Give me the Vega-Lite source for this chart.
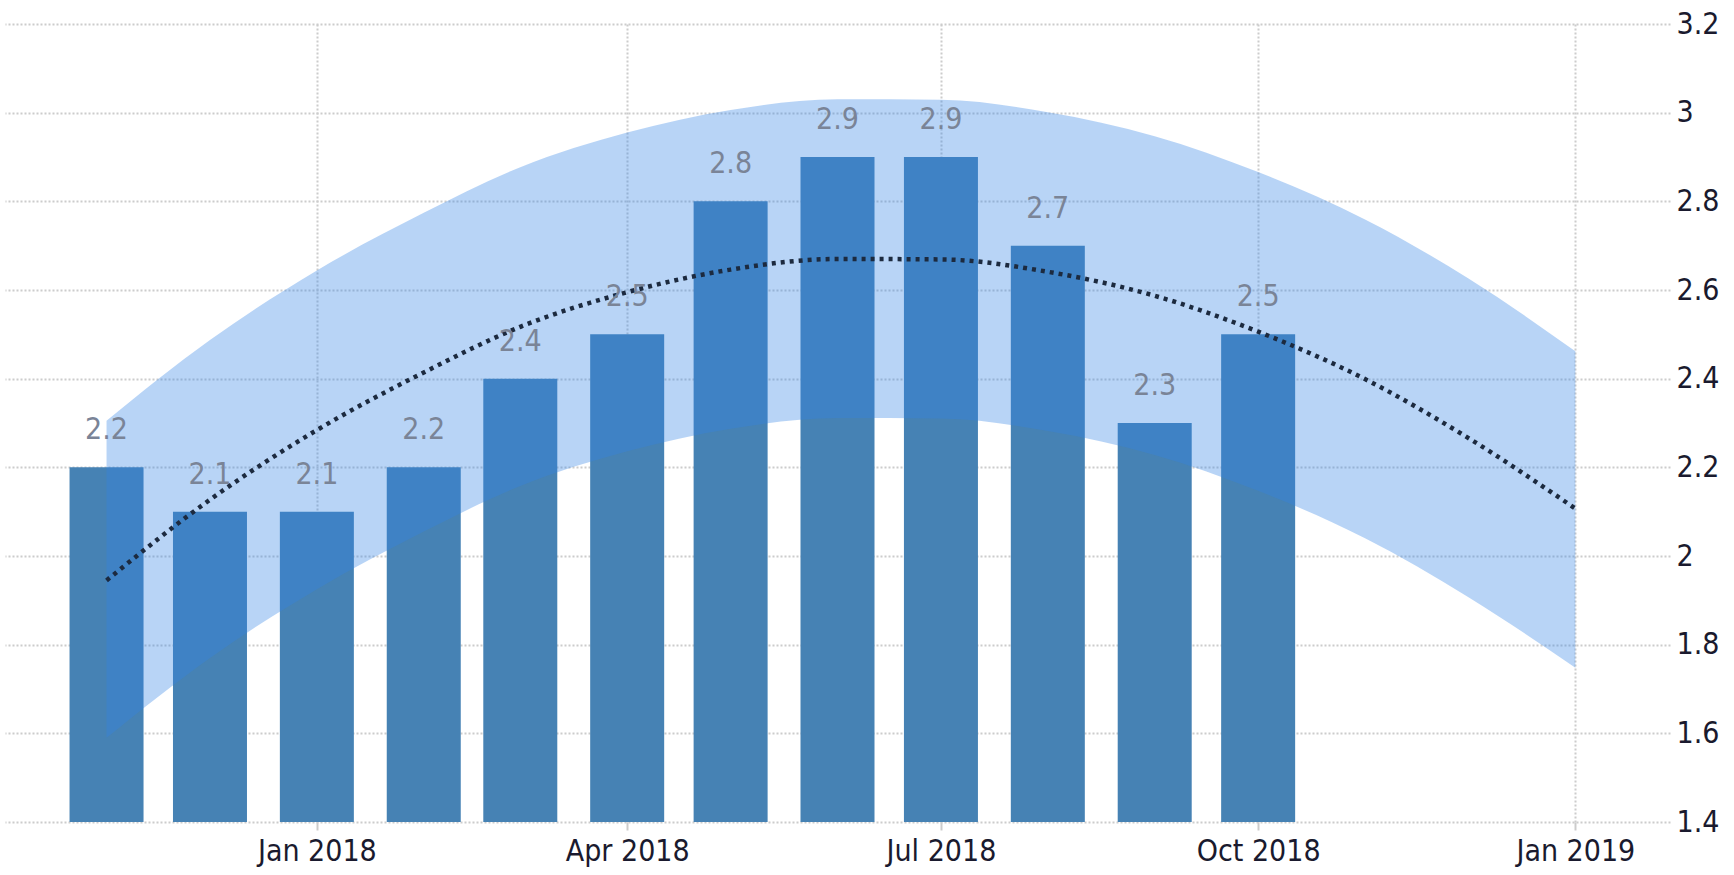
{
  "$schema": "https://vega.github.io/schema/vega-lite/v6.json",
  "width": 1665,
  "height": 798,
  "autosize": "none",
  "padding": {"left": 5, "top": 24, "right": 64, "bottom": 53},
  "background": "white",
  "config": {
    "view": {"stroke": null},
    "font": "Liberation Sans Narrow, DejaVu Sans Condensed, Roboto, sans-serif"
  },
  "datasets": {
    "bars": [
      {"date": "2017-11-01", "value": 2.2},
      {"date": "2017-12-01", "value": 2.1},
      {"date": "2018-01-01", "value": 2.1},
      {"date": "2018-02-01", "value": 2.2},
      {"date": "2018-03-01", "value": 2.4},
      {"date": "2018-04-01", "value": 2.5},
      {"date": "2018-05-01", "value": 2.8},
      {"date": "2018-06-01", "value": 2.9},
      {"date": "2018-07-01", "value": 2.9},
      {"date": "2018-08-01", "value": 2.7},
      {"date": "2018-09-01", "value": 2.3},
      {"date": "2018-10-01", "value": 2.5}
    ],
    "trend": [
      {"date": "2017-11-01", "trend": 1.945, "lo": 1.59, "hi": 2.305},
      {"date": "2017-12-01", "trend": 2.127, "lo": 1.77, "hi": 2.487},
      {"date": "2018-01-01", "trend": 2.284, "lo": 1.925, "hi": 2.644},
      {"date": "2018-02-01", "trend": 2.414, "lo": 2.055, "hi": 2.774},
      {"date": "2018-03-01", "trend": 2.517, "lo": 2.158, "hi": 2.877},
      {"date": "2018-04-01", "trend": 2.595, "lo": 2.236, "hi": 2.955},
      {"date": "2018-05-01", "trend": 2.646, "lo": 2.287, "hi": 3.006},
      {"date": "2018-06-01", "trend": 2.67, "lo": 2.311, "hi": 3.03},
      {"date": "2018-07-01", "trend": 2.669, "lo": 2.31, "hi": 3.029},
      {"date": "2018-08-01", "trend": 2.641, "lo": 2.282, "hi": 3.001},
      {"date": "2018-09-01", "trend": 2.587, "lo": 2.228, "hi": 2.947},
      {"date": "2018-10-01", "trend": 2.506, "lo": 2.147, "hi": 2.866},
      {"date": "2018-11-01", "trend": 2.399, "lo": 2.04, "hi": 2.759},
      {"date": "2018-12-01", "trend": 2.266, "lo": 1.907, "hi": 2.626},
      {"date": "2019-01-01", "trend": 2.107, "lo": 1.748, "hi": 2.462}
    ]
  },
  "encoding": {
    "x": {
      "field": "date",
      "type": "temporal",
      "scale": {
        "type": "utc",
        "domain": [
          {"year": 2017, "month": 10, "date": 4, "utc": true},
          {"year": 2019, "month": 1, "date": 27, "utc": true}
        ]
      },
      "axis": {
        "title": null,
        "format": "%b %Y",
        "values": [
          {"year": 2018, "month": 1, "date": 1, "utc": true},
          {"year": 2018, "month": 4, "date": 1, "utc": true},
          {"year": 2018, "month": 7, "date": 1, "utc": true},
          {"year": 2018, "month": 10, "date": 1, "utc": true},
          {"year": 2019, "month": 1, "date": 1, "utc": true}
        ],
        "domain": false,
        "ticks": true,
        "tickColor": "#cccccc",
        "tickSize": 8,
        "tickWidth": 2,
        "labelFontSize": 30,
        "labelColor": "#1a1a2e",
        "labelPadding": 6,
        "grid": true,
        "gridColor": "#cccccc",
        "gridDash": [2, 2],
        "gridWidth": 2
      }
    }
  },
  "layer": [
    {
      "data": {"name": "bars"},
      "mark": {"type": "bar", "color": "#4682b4", "width": 74},
      "encoding": {
        "y": {
          "field": "value",
          "type": "quantitative",
          "scale": {"domain": [1.4, 3.2], "zero": false, "nice": false},
          "axis": {
            "orient": "right",
            "title": null,
            "values": [1.4, 1.6, 1.8, 2, 2.2, 2.4, 2.6, 2.8, 3, 3.2],
            "format": "~g",
            "domain": false,
            "ticks": false,
            "labelPadding": 6,
            "labelFontSize": 30,
            "labelColor": "#1a1a2e",
            "labelBaseline": "middle",
            "grid": true,
            "gridColor": "#cccccc",
            "gridDash": [2, 2],
            "gridWidth": 2
          }
        },
        "y2": {"datum": 1.4}
      }
    },
    {
      "data": {"name": "trend"},
      "mark": {"type": "area", "color": "#3385e6", "opacity": 0.35, "interpolate": "monotone"},
      "encoding": {
        "y": {"field": "lo", "type": "quantitative"},
        "y2": {"field": "hi"}
      }
    },
    {
      "data": {"name": "trend"},
      "mark": {"type": "line", "color": "#1c2a3f", "strokeWidth": 4.5, "strokeDash": [4, 5], "interpolate": "monotone", "strokeCap": "butt"},
      "encoding": {
        "y": {"field": "trend", "type": "quantitative"}
      }
    },
    {
      "data": {"name": "bars"},
      "mark": {"type": "text", "baseline": "bottom", "dy": -22, "fontSize": 30, "color": "#7a8497"},
      "encoding": {
        "y": {"field": "value", "type": "quantitative"},
        "text": {"field": "value", "type": "quantitative", "format": ".1f"}
      }
    }
  ]
}
